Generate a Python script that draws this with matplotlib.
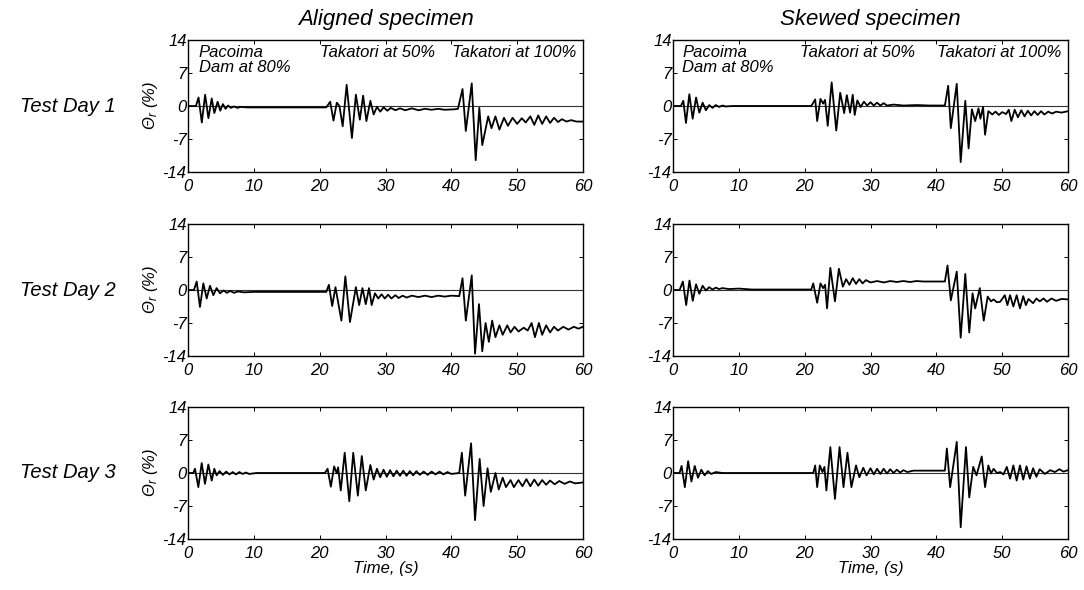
import numpy as np
import matplotlib.pyplot as plt

plt.rcParams['font.family'] = ['Liberation Sans', 'DejaVu Sans']
plt.rcParams['font.style'] = 'italic'
plt.rcParams['mathtext.fontset'] = 'custom'
plt.rcParams['mathtext.it'] = 'Liberation Sans:italic'
plt.rcParams['mathtext.rm'] = 'Liberation Sans:italic'
plt.rcParams['axes.unicode_minus'] = False

# ground rotation records, (time s, theta_r %)
aligned_day1 = [(0, 0), (1.2, 0), (1.6, 1.8), (2.1, -3.5), (2.6, 2.4), (3.1, -2.6), (3.6, 1.6), (4.0, -1.5),
                (4.5, 0.9), (4.9, -1.0), (5.3, 0.4), (5.7, -0.6), (6.1, 0.1), (6.5, -0.4), (7.0, -0.1), (7.5, -0.4),
                (8.0, -0.2), (9.0, -0.3), (21.0, -0.3),
                (21.6, 0.9), (22.1, -3.1), (22.6, 0.7), (23.0, 0.0), (23.5, -4.3), (24.1, 4.5), (24.9, -6.8),
                (25.5, 2.4), (26.1, -2.9), (26.6, 2.2), (27.1, -3.2), (27.7, 1.1), (28.2, -1.8), (28.7, -0.2),
                (29.2, -1.2), (29.7, -0.3), (30.3, -1.0), (30.8, -0.4), (31.5, -0.9), (32.2, -0.5), (33.0, -0.9),
                (34.0, -0.5), (35.0, -0.9), (36.0, -0.6), (37.0, -0.8), (38.0, -0.6), (39.0, -0.8), (40.5, -0.7),
                (41.0, -0.6), (41.7, 3.6), (42.2, -5.3), (43.1, 4.8), (43.7, -11.5), (44.25, -0.4), (44.7, -8.3),
                (45.6, -2.2), (46.1, -4.7), (46.7, -2.2), (47.3, -5.0), (48.0, -2.5), (48.6, -4.2), (49.3, -2.5),
                (50.0, -3.8), (50.7, -2.6), (51.3, -3.5), (52.0, -2.2), (52.6, -4.0), (53.2, -2.0), (53.8, -3.8),
                (54.4, -2.2), (55.0, -3.6), (55.6, -2.5), (56.2, -3.4), (56.8, -2.8), (57.5, -3.3), (58.2, -3.0),
                (59.0, -3.3), (60.0, -3.3)]

skewed_day1 = [(0, 0), (1.2, 0), (1.57, 1.1), (1.97, -3.6), (2.48, 2.5), (2.99, -2.7), (3.5, 1.8), (4.0, -1.4),
               (4.5, 0.7), (5.0, -0.9), (5.5, 0.2), (6.0, -0.4), (6.5, 0.2), (7.0, -0.2), (7.5, 0.1), (8.0, -0.1),
               (9.0, 0), (21.0, 0),
               (21.6, 1.4), (21.9, -3.2), (22.4, 1.5), (22.8, 0.5), (23.1, 1.3), (23.5, -4.2), (24.1, 5.0),
               (24.8, -5.2), (25.4, 2.8), (26.0, -1.5), (26.4, 2.3), (26.9, -1.4), (27.3, 2.4), (27.6, -1.9),
               (28.0, 1.2), (28.5, -0.2), (29.0, 0.9), (29.5, 0.1), (30.0, 0.8), (30.5, 0.1), (31.0, 0.7),
               (31.5, 0.1), (32.0, 0.6), (32.5, 0.1), (33.5, 0.3), (35, 0.1), (37, 0.2), (39, 0.1), (41.3, 0.1),
               (41.8, 4.3), (42.2, -4.7), (43.1, 4.7), (43.7, -11.9), (44.4, 1.1), (44.9, -9.0), (45.4, -0.7),
               (45.9, -3.2), (46.4, -0.5), (46.7, -2.7), (47.1, -0.2), (47.4, -6.1), (47.9, -1.1), (48.5, -1.8),
               (49.0, -1.2), (49.5, -1.9), (50.0, -1.3), (50.6, -1.7), (51.0, -0.8), (51.4, -3.2), (51.9, -0.8),
               (52.4, -2.4), (52.9, -0.9), (53.4, -2.2), (53.9, -1.0), (54.4, -2.0), (54.9, -1.1), (55.4, -1.9),
               (55.9, -1.1), (56.4, -1.8), (57.0, -1.2), (57.6, -1.6), (58.2, -1.2), (59.0, -1.4), (60.0, -1.1)]

aligned_day2 = [(0, 0), (0.9, 0), (1.32, 1.8), (1.82, -3.6), (2.33, 1.4), (2.84, -1.8), (3.34, 0.9), (3.85, -1.1),
                (4.35, 0.4), (4.86, -0.7), (5.4, -0.1), (5.9, -0.6), (6.4, -0.2), (7.0, -0.6), (7.6, -0.3),
                (8.5, -0.5), (10, -0.4), (21.0, -0.4),
                (21.4, 1.1), (21.9, -3.4), (22.4, 0.6), (23.3, -6.5), (23.9, 2.9), (24.6, -6.8), (25.5, 0.6),
                (26.0, -3.2), (26.5, 0.4), (27.0, -3.0), (27.5, 0.4), (27.9, -3.2), (28.4, -0.7), (28.9, -1.8),
                (29.4, -0.9), (29.9, -1.8), (30.4, -1.0), (30.9, -1.8), (31.5, -1.1), (32.0, -1.7), (32.6, -1.2),
                (33.2, -1.6), (34, -1.2), (35, -1.5), (36, -1.2), (37, -1.5), (38, -1.2), (39, -1.4), (40, -1.2),
                (41.2, -1.3),
                (41.7, 2.5), (42.2, -6.5), (43.1, 3.1), (43.6, -13.5), (44.2, -3.0), (44.7, -13.0), (45.2, -7.0),
                (45.7, -11.0), (46.2, -6.5), (46.7, -10.0), (47.3, -7.5), (47.8, -9.5), (48.5, -7.5), (49.0, -9.0),
                (49.6, -7.8), (50.2, -8.8), (51.0, -8.0), (51.6, -8.6), (52.2, -7.0), (52.7, -10.0), (53.3, -7.0),
                (53.8, -9.5), (54.4, -7.5), (55.0, -9.0), (55.6, -7.8), (56.2, -8.6), (57.0, -7.8), (57.8, -8.4),
                (58.6, -7.8), (59.3, -8.2), (60.0, -7.8)]

skewed_day2 = [(0, 0), (1.0, 0), (1.5, 1.8), (2.0, -3.2), (2.5, 2.0), (3.0, -2.3), (3.5, 1.2), (4.0, -0.8),
               (4.5, 0.9), (5.0, -0.1), (5.5, 0.6), (6.0, 0.1), (6.5, 0.5), (7.0, 0.2), (7.5, 0.4), (8.5, 0.2),
               (10, 0.3), (12, 0.1), (21.0, 0.1),
               (21.3, 1.4), (21.9, -2.7), (22.4, 1.4), (22.8, 0.4), (23.1, 1.1), (23.4, -3.9), (23.9, 4.7),
               (24.6, -2.4), (25.2, 4.5), (25.8, 0.7), (26.3, 2.3), (26.8, 1.1), (27.3, 2.5), (27.8, 1.3),
               (28.3, 2.3), (28.8, 1.4), (29.3, 2.1), (30, 1.6), (31, 1.9), (32, 1.6), (33, 1.9), (34, 1.7),
               (35, 1.9), (36, 1.7), (37, 1.9), (38, 1.8), (41.3, 1.8),
               (41.7, 5.2), (42.2, -2.2), (43.1, 3.9), (43.7, -10.1), (44.4, 3.4), (45.0, -9.0), (45.5, -0.7),
               (45.9, -3.9), (46.6, 0.4), (47.2, -6.5), (47.8, -1.4), (48.3, -2.4), (48.7, -2.0), (49.2, -2.6),
               (49.7, -2.5), (50.4, -1.1), (50.8, -3.2), (51.2, -1.1), (51.7, -3.5), (52.2, -1.1), (52.7, -3.9),
               (53.2, -1.3), (53.6, -3.2), (54.0, -1.9), (54.7, -2.8), (55.2, -1.8), (55.7, -2.4), (56.3, -1.8),
               (56.8, -2.5), (57.5, -1.8), (58.2, -2.3), (59.0, -1.9), (60.0, -2.0)]

aligned_day3 = [(0, 0), (0.8, 0), (1.06, 0.9), (1.57, -3.0), (2.08, 2.1), (2.58, -2.3), (3.09, 1.8), (3.6, -1.6),
                (4.0, 0.9), (4.35, -0.5), (4.8, 0.4), (5.3, -0.4), (5.8, 0.3), (6.3, -0.3), (6.8, 0.2), (7.3, -0.3),
                (7.8, 0.2), (8.3, -0.2), (8.8, 0.1), (9.3, -0.2), (10.4, 0), (20.8, 0),
                (21.2, 0.9), (21.7, -2.9), (22.2, 1.4), (22.6, -0.1), (22.8, 1.2), (23.2, -3.7), (23.8, 4.3),
                (24.5, -6.0), (25.1, 4.3), (25.8, -4.8), (26.4, 3.6), (27.0, -3.7), (27.7, 1.7), (28.2, -1.4),
                (28.7, 0.9), (29.2, -0.9), (29.7, 0.7), (30.2, -0.8), (30.7, 0.6), (31.2, -0.7), (31.7, 0.5),
                (32.2, -0.6), (32.7, 0.5), (33.2, -0.6), (33.7, 0.4), (34.2, -0.5), (34.7, 0.4), (35.2, -0.4),
                (35.8, 0.3), (36.4, -0.4), (37.0, 0.3), (37.6, -0.3), (38.2, 0.3), (38.8, -0.3), (39.4, 0.2),
                (40.0, -0.2), (41.2, 0),
                (41.6, 4.3), (42.1, -4.8), (43.0, 6.3), (43.6, -10.0), (44.3, 3.0), (44.9, -7.0), (45.5, 1.0),
                (46.0, -4.0), (46.7, 0.0), (47.2, -3.5), (47.8, -1.0), (48.3, -3.0), (49.0, -1.5), (49.5, -3.0),
                (50.2, -1.5), (50.8, -2.8), (51.4, -1.3), (52.0, -2.8), (52.6, -1.4), (53.2, -2.7), (53.8, -1.5),
                (54.4, -2.5), (55.0, -1.6), (55.7, -2.4), (56.4, -1.7), (57.2, -2.3), (58.0, -1.8), (58.8, -2.2),
                (60.0, -2.0)]

skewed_day3 = [(0, 0), (1.0, 0), (1.3, 1.5), (1.8, -3.0), (2.3, 2.5), (2.8, -1.8), (3.3, 1.5), (3.8, -1.0),
               (4.3, 0.7), (4.8, -0.5), (5.3, 0.4), (5.8, -0.2), (6.5, 0.2), (7.5, 0), (21.3, 0),
               (21.6, 1.6), (21.9, -3.0), (22.3, 1.6), (22.7, 0.2), (23.0, 1.3), (23.3, -3.7), (23.9, 5.5),
               (24.6, -5.5), (25.3, 5.5), (25.9, -3.0), (26.5, 4.3), (27.1, -3.0), (27.8, 1.6), (28.3, -0.9),
               (28.9, 1.1), (29.4, -0.5), (30.0, 1.0), (30.5, -0.3), (31.0, 0.9), (31.5, -0.2), (32.0, 0.9),
               (32.5, -0.1), (33.0, 0.8), (33.5, 0), (34.0, 0.7), (34.5, 0.1), (35.0, 0.6), (35.6, 0.2),
               (36.5, 0.5), (41.3, 0.5),
               (41.6, 5.2), (42.1, -3.0), (43.1, 6.6), (43.7, -11.5), (44.5, 5.5), (45.0, -5.2), (45.6, 1.3),
               (46.1, -0.5), (46.9, 3.5), (47.4, -3.0), (47.9, 1.6), (48.3, -0.1), (48.7, 0.9), (49.2, 0),
               (49.7, 0.2), (50.2, -0.3), (50.7, 1.3), (51.2, -1.2), (51.7, 1.6), (52.2, -1.6), (52.7, 1.6),
               (53.2, -1.4), (53.7, 1.4), (54.2, -1.2), (54.7, 1.0), (55.2, -0.8), (55.7, 0.8), (56.5, -0.2),
               (57.3, 0.6), (58.0, 0.2), (58.7, 0.8), (59.3, 0.3), (60.0, 0.6)]

records = [[aligned_day1, skewed_day1],
           [aligned_day2, skewed_day2],
           [aligned_day3, skewed_day3]]

col_titles = ['Aligned specimen', 'Skewed specimen']
row_labels = ['Test Day 1', 'Test Day 2', 'Test Day 3']
xticks = [0, 10, 20, 30, 40, 50, 60]
yticks = [-14, -7, 0, 7, 14]

W, H = 1084, 590
fig = plt.figure(figsize=(W / 100, H / 100), dpi=100)

col_x = [188, 673]
ax_w = 395
row_top = [40, 224, 407]
ax_h = 132

for i in range(3):
    for j in range(2):
        ax = fig.add_axes([col_x[j] / W, 1 - (row_top[i] + ax_h) / H, ax_w / W, ax_h / H])
        t, th = zip(*records[i][j])
        ax.axhline(0, color='#333333', lw=0.8)
        ax.plot(t, th, color='black', lw=1.3)
        ax.set_xlim(0, 60)
        ax.set_ylim(-14, 14)
        ax.set_xticks(xticks)
        ax.set_yticks(yticks)
        ax.tick_params(direction='in', top=True, right=True, length=3, width=0.7,
                       labelsize=12)
        ax.tick_params(axis='x', pad=5)
        ax.tick_params(axis='y', pad=1)
        for s in ax.spines.values():
            s.set_linewidth(1.0)
        if j == 0:
            ax.set_ylabel(r'$\Theta_r$ (%)', fontsize=12, labelpad=2)
            fig.text(116 / W, 1 - (row_top[i] + ax_h / 2) / H, row_labels[i],
                     ha='right', va='center', fontsize=14.5)
        if i == 0:
            ax.set_title(col_titles[j], fontsize=16, pad=11)
            ax.text(1.6 if j == 0 else 1.4, 13.0, 'Pacoima\nDam at 80%', fontsize=12,
                    va='top', ha='left', linespacing=1.05)
            ax.text(20.0 if j == 0 else 19.3, 13.0, 'Takatori at 50%', fontsize=12, va='top')
            ax.text(40.1, 13.0, 'Takatori at 100%', fontsize=12, va='top')
        if i == 2:
            ax.set_xlabel('Time, (s)', fontsize=12, labelpad=0)

fig.savefig('out.png', dpi=100)
